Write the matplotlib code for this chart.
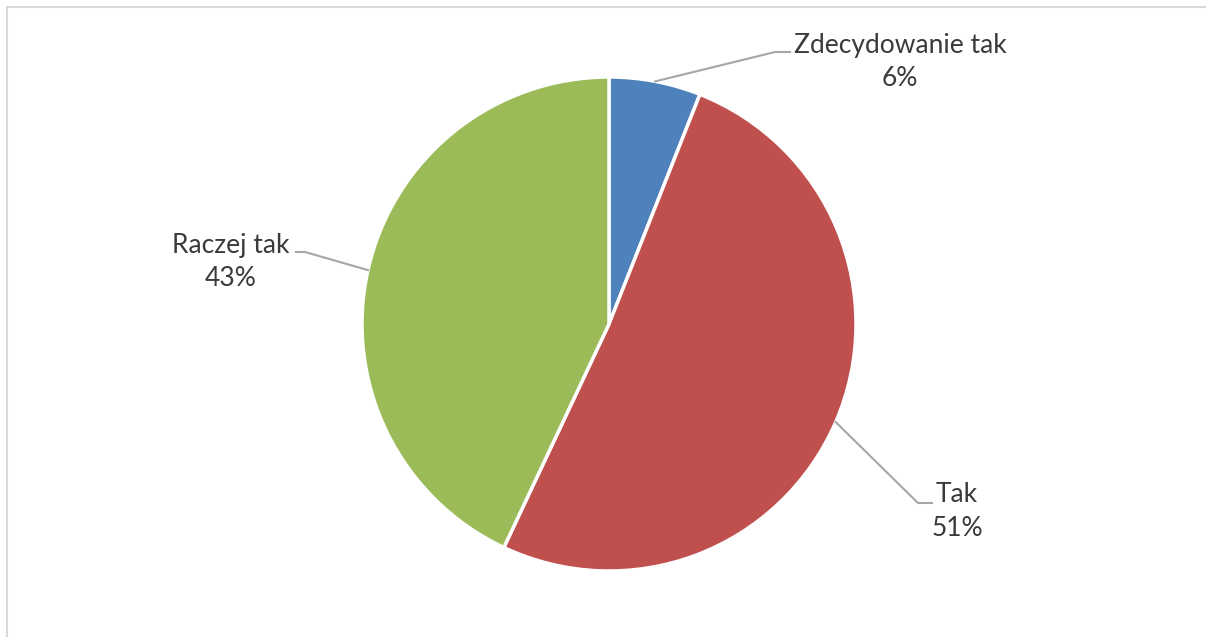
import numpy as np
import matplotlib.pyplot as plt
from matplotlib.patches import Rectangle

# survey answers and shares (%)
labels = ["Zdecydowanie tak", "Tak", "Raczej tak"]
values = [6, 51, 43]
colors = ["#4F81BD", "#C0504D", "#9BBB59"]

W, H = 1206, 637
fig = plt.figure(figsize=(W / 100, H / 100), dpi=100)
ax = fig.add_axes([0, 0, 1, 1])
ax.set_xlim(0, W)
ax.set_ylim(0, H)
ax.set_aspect("equal")
ax.axis("off")

# chart border (only top and left are visible in the crop)
fig.patches.append(Rectangle((7 / W, -0.1), 1.2, (H - 7) / H + 0.1,
                             transform=fig.transFigure, fill=False,
                             edgecolor="#D9D9D9", lw=1.5))

cx, cy, r = 609, H - 324, 247
wedges, _ = ax.pie(values, colors=colors, startangle=90, counterclock=False,
                   center=(cx, cy), radius=r, frame=True,
                   wedgeprops=dict(edgecolor="white", linewidth=2.5))
ax.set_xlim(0, W)
ax.set_ylim(0, H)
ax.axis("off")

# label placement: (elbow x, elbow y, end x, text x, text y)
label_pos = [
    (775, 52, 790, 900, 45),
    (918, 503, 932, 957, 495),
    (305, 252, 296, 231, 245),
]

txt = dict(color="#3A3A3A", fontsize=19, family=["Lato", "DejaVu Sans"])
for w, lab, v, (ex, ey, tx, lx, ly) in zip(wedges, labels, values, label_pos):
    ang = np.deg2rad((w.theta1 + w.theta2) / 2)
    px, py = cx + r * np.cos(ang), cy + r * np.sin(ang)
    ax.plot([px, ex, tx], [py, H - ey, H - ey], color="#A6A6A6", lw=1.5)
    ax.text(lx, H - ly, lab, ha="center", va="center", **txt)
    ax.text(lx, H - ly - 34, f"{v}%", ha="center", va="center", **txt)

fig.savefig("out.png", dpi=100)
